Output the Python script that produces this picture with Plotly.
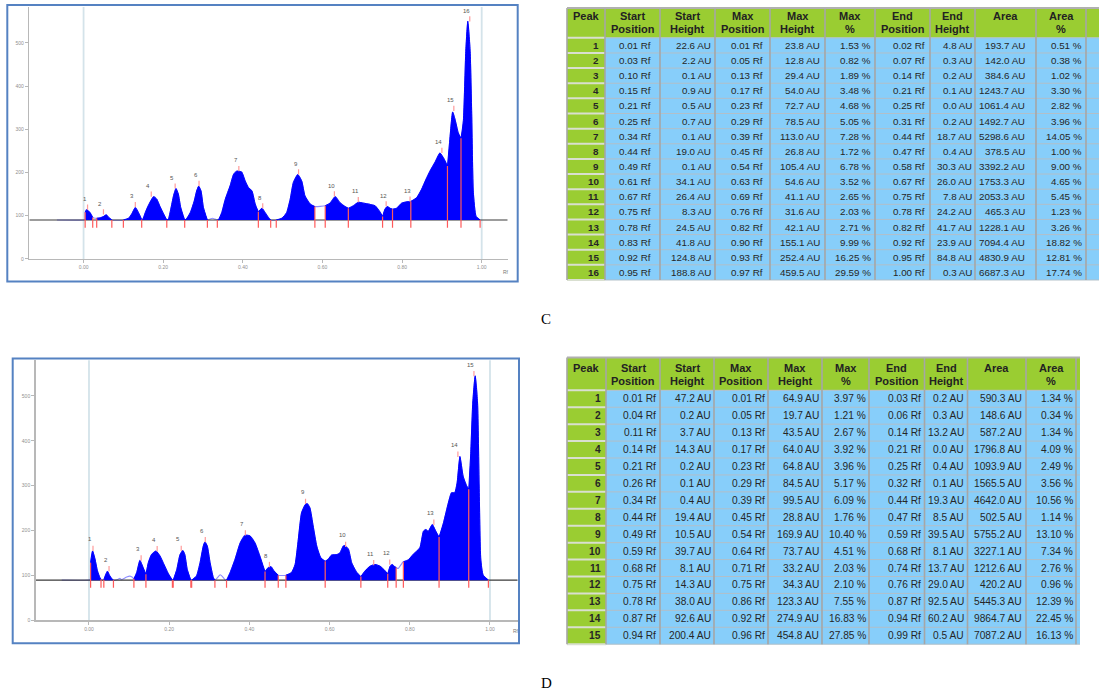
import numpy as np
import plotly.graph_objects as go

W, H = 1099, 695
def PX(x): return x / W
def PY(y): return 1 - y / H

# ---------------- Chart C : chromatogram profile (Rf, AU) ----------------
c_rf = [-0.067, 0.000, 0.003, 0.004, 0.008, 0.013, 0.017, 0.023, 0.029, 0.033, 0.042, 0.050, 0.057, 0.063, 0.071,
        0.100, 0.113, 0.121, 0.130, 0.138, 0.146, 0.149, 0.155, 0.163, 0.176, 0.184, 0.192, 0.201, 0.209, 0.213,
        0.219, 0.226, 0.232, 0.238, 0.244, 0.254, 0.258, 0.268, 0.278, 0.284, 0.289, 0.295, 0.301, 0.311, 0.318,
        0.324, 0.330, 0.336, 0.339, 0.347, 0.356, 0.368, 0.377, 0.385, 0.397, 0.406, 0.414, 0.423, 0.431, 0.439,
        0.448, 0.456, 0.464, 0.470, 0.484, 0.498, 0.510, 0.519, 0.527, 0.538, 0.548, 0.556, 0.569, 0.581, 0.607,
        0.619, 0.632, 0.644, 0.657, 0.665, 0.678, 0.690, 0.703, 0.720, 0.732, 0.745, 0.751, 0.757, 0.763, 0.770,
        0.776, 0.786, 0.799, 0.812, 0.822, 0.837, 0.849, 0.860, 0.870, 0.883, 0.895, 0.905, 0.914, 0.920, 0.927,
        0.933, 0.941, 0.948, 0.954, 0.960, 0.965, 0.971, 0.975, 0.979, 0.986, 0.996]
c_au = [90, 90, 91, 108, 114, 110, 106, 96, 94, 94, 95, 98, 102, 96, 90,
        90, 94, 104, 119, 107, 91, 92, 107, 124, 144, 138, 121, 104, 90, 92,
        115, 146, 163, 150, 119, 90, 92, 107, 134, 157, 168, 157, 119, 90, 92,
        94, 92, 90, 91, 107, 138, 169, 196, 203, 201, 180, 165, 157, 127, 109,
        117, 107, 96, 90, 90, 94, 107, 138, 177, 195, 180, 146, 127, 121, 123,
        129, 144, 130, 121, 117, 123, 131, 129, 126, 123, 108, 98, 115, 121, 117,
        115, 117, 129, 132, 133, 142, 161, 184, 203, 224, 245, 232, 215, 277, 340,
        323, 292, 279, 320, 480, 550, 480, 330, 154, 98, 90]
c_baseline = 90
c_seg_lo = [0.004, 0.033, 0.100, 0.146, 0.209, 0.254, 0.336, 0.439, 0.484, 0.607, 0.665, 0.751, 0.776, 0.822, 0.914, 0.948]
c_seg_hi = [0.023, 0.071, 0.146, 0.209, 0.254, 0.311, 0.439, 0.470, 0.581, 0.665, 0.751, 0.776, 0.822, 0.914, 0.948, 0.996]

# ---------------- Table C ----------------
c_peak = list(range(1, 17))
c_start_pos = [0.01, 0.03, 0.10, 0.15, 0.21, 0.25, 0.34, 0.44, 0.49, 0.61, 0.67, 0.75, 0.78, 0.83, 0.92, 0.95]
c_start_h = [22.6, 2.2, 0.1, 0.9, 0.5, 0.7, 0.1, 19.0, 0.1, 34.1, 26.4, 8.3, 24.5, 41.8, 124.8, 188.8]
c_max_pos = [0.01, 0.05, 0.13, 0.17, 0.23, 0.29, 0.39, 0.45, 0.54, 0.63, 0.69, 0.76, 0.82, 0.90, 0.93, 0.97]
c_max_h = [23.8, 12.8, 29.4, 54.0, 72.7, 78.5, 113.0, 26.8, 105.4, 54.6, 41.1, 31.6, 42.1, 155.1, 252.4, 459.5]
c_max_pct = [1.53, 0.82, 1.89, 3.48, 4.68, 5.05, 7.28, 1.72, 6.78, 3.52, 2.65, 2.03, 2.71, 9.99, 16.25, 29.59]
c_end_pos = [0.02, 0.07, 0.14, 0.21, 0.25, 0.31, 0.44, 0.47, 0.58, 0.67, 0.75, 0.78, 0.82, 0.92, 0.95, 1.00]
c_end_h = [4.8, 0.3, 0.2, 0.1, 0.0, 0.2, 18.7, 0.4, 30.3, 26.0, 7.8, 24.2, 41.7, 23.9, 84.8, 0.3]
c_area = [193.7, 142.0, 384.6, 1243.7, 1061.4, 1492.7, 5298.6, 378.5, 3392.2, 1753.3, 2053.3, 465.3, 1228.1, 7094.4, 4830.9, 6687.3]
c_area_pct = [0.51, 0.38, 1.02, 3.30, 2.82, 3.96, 14.05, 1.00, 9.00, 4.65, 5.45, 1.23, 3.26, 18.82, 12.81, 17.74]

# ---------------- Chart D : chromatogram profile (Rf, AU) ----------------
d_rf = [-0.068, 0.000, 0.003, 0.004, 0.009, 0.015, 0.021, 0.027, 0.030, 0.034,
        0.037, 0.042, 0.046, 0.051, 0.057, 0.061, 0.073, 0.077, 0.081, 0.094,
        0.102, 0.109, 0.112, 0.119, 0.127, 0.135, 0.142, 0.148, 0.156, 0.167,
        0.177, 0.185, 0.198, 0.208, 0.210, 0.219, 0.227, 0.234, 0.239, 0.245,
        0.254, 0.256, 0.268, 0.277, 0.285, 0.289, 0.295, 0.302, 0.310, 0.314,
        0.318, 0.327, 0.333, 0.339, 0.343, 0.352, 0.364, 0.377, 0.389, 0.401,
        0.414, 0.426, 0.439, 0.447, 0.454, 0.461, 0.472, 0.491, 0.505, 0.514,
        0.522, 0.530, 0.539, 0.544, 0.551, 0.559, 0.568, 0.578, 0.589, 0.597,
        0.605, 0.618, 0.626, 0.634, 0.638, 0.647, 0.655, 0.668, 0.678, 0.688,
        0.701, 0.713, 0.726, 0.738, 0.745, 0.751, 0.756, 0.761, 0.766, 0.771,
        0.780, 0.784, 0.796, 0.809, 0.825, 0.834, 0.840, 0.846, 0.856, 0.865,
        0.873, 0.884, 0.896, 0.904, 0.912, 0.918, 0.925, 0.933, 0.942, 0.947,
        0.952, 0.957, 0.963, 0.969, 0.973, 0.977, 0.983, 0.996]
d_au = [89, 89, 90, 128, 154, 136, 110, 95, 91, 89,
        90, 102, 109, 100, 92, 89, 91, 93, 90, 96,
        98, 95, 92, 106, 133, 117, 102, 128, 146, 154,
        143, 128, 103, 89, 89, 113, 146, 155, 146, 113,
        89, 89, 98, 128, 165, 174, 165, 128, 95, 89,
        92, 101, 97, 90, 89, 106, 135, 172, 189, 188,
        172, 143, 108, 117, 119, 110, 100, 100, 106, 124,
        180, 239, 257, 260, 250, 210, 165, 139, 131, 136,
        145, 146, 150, 165, 166, 158, 128, 106, 97, 109,
        120, 124, 120, 110, 103, 120, 124, 120, 117, 115,
        126, 130, 134, 147, 161, 198, 202, 198, 213, 198,
        185, 217, 261, 284, 284, 306, 365, 321, 299, 292,
        372, 484, 545, 484, 299, 136, 100, 89]
d_baseline = 89
d_seg_lo = [0.004, 0.037, 0.112, 0.142, 0.210, 0.256, 0.343, 0.439, 0.491, 0.589, 0.678, 0.745, 0.784, 0.873, 0.947]
d_seg_hi = [0.030, 0.061, 0.142, 0.208, 0.254, 0.314, 0.439, 0.472, 0.589, 0.678, 0.745, 0.766, 0.873, 0.947, 0.996]

# ---------------- Table D ----------------
d_peak = list(range(1, 16))
d_start_pos = [0.01, 0.04, 0.11, 0.14, 0.21, 0.26, 0.34, 0.44, 0.49, 0.59, 0.68, 0.75, 0.78, 0.87, 0.94]
d_start_h = [47.2, 0.2, 3.7, 14.3, 0.2, 0.1, 0.4, 19.4, 10.5, 39.7, 8.1, 14.3, 38.0, 92.6, 200.4]
d_max_pos = [0.01, 0.05, 0.13, 0.17, 0.23, 0.29, 0.39, 0.45, 0.54, 0.64, 0.71, 0.75, 0.86, 0.92, 0.96]
d_max_h = [64.9, 19.7, 43.5, 64.0, 64.8, 84.5, 99.5, 28.8, 169.9, 73.7, 33.2, 34.3, 123.3, 274.9, 454.8]
d_max_pct = [3.97, 1.21, 2.67, 3.92, 3.96, 5.17, 6.09, 1.76, 10.40, 4.51, 2.03, 2.10, 7.55, 16.83, 27.85]
d_end_pos = [0.03, 0.06, 0.14, 0.21, 0.25, 0.32, 0.44, 0.47, 0.59, 0.68, 0.74, 0.76, 0.87, 0.94, 0.99]
d_end_h = [0.2, 0.3, 13.2, 0.0, 0.4, 0.1, 19.3, 8.5, 39.5, 8.1, 13.7, 29.0, 92.5, 60.2, 0.5]
d_area = [590.3, 148.6, 587.2, 1796.8, 1093.9, 1565.5, 4642.0, 502.5, 5755.2, 3227.1, 1212.6, 420.2, 5445.3, 9864.7, 7087.2]
d_area_pct = [1.34, 0.34, 1.34, 4.09, 2.49, 3.56, 10.56, 1.14, 13.10, 7.34, 2.76, 0.96, 12.39, 22.45, 16.13]

x_tick_vals = [0.0, 0.2, 0.4, 0.6, 0.8, 1.0]
x_tick_text = ["0.00", "0.20", "0.40", "0.60", "0.80", "1.00"]
y_tick_vals = [0, 100, 200, 300, 400, 500]
y_tick_text = ["0", "100", "200", "300", "400", "500"]

hdr_l1 = ["Peak", "Start", "Start", "Max", "Max", "Max", "End", "End", "Area", "Area"]
hdr_l2 = ["", "Position", "Height", "Position", "Height", "%", "Position", "Height", "", "%"]

GREEN = "#9acd32"
BLUE = "#87cefa"
FONT = "Liberation Sans, Arial, sans-serif"

fig = go.Figure()
shapes = []
annotations = []

def hline(x0, x1, y, color, w):
    shapes.append(dict(type="line", xref="paper", yref="paper", x0=PX(x0), x1=PX(x1), y0=PY(y), y1=PY(y),
                       line=dict(color=color, width=w)))

def vline(x, y0, y1, color, w):
    shapes.append(dict(type="line", xref="paper", yref="paper", x0=PX(x), x1=PX(x), y0=PY(y0), y1=PY(y1),
                       line=dict(color=color, width=w)))

def rect(x0, y0, x1, y1, fill, line_color=None, lw=0):
    shapes.append(dict(type="rect", xref="paper", yref="paper", x0=PX(x0), x1=PX(x1), y0=PY(y1), y1=PY(y0),
                       fillcolor=fill, line=dict(color=line_color or "rgba(0,0,0,0)", width=lw), layer="below"))

def text_at(x, y, txt, size, color, family=FONT, xanchor="center"):
    annotations.append(dict(x=PX(x), y=PY(y), xref="paper", yref="paper", text=txt, showarrow=False,
                            xanchor=xanchor, yanchor="middle", borderpad=0,
                            font=dict(size=size, color=color, family=family)))

def add_chart(rf, au, base, lo, hi, mpos, mh, xa, ya, xr, tick_u, lab_u, mark_u):
    rf = np.array(rf, dtype=float)
    au = np.array(au, dtype=float)
    common = dict(xaxis=xa, yaxis=ya, hoverinfo="skip", showlegend=False)
    fig.add_trace(go.Scatter(x=rf, y=au, mode="lines",
                             line=dict(color="#8c8cff", width=1.1, shape="spline", smoothing=0.5), **common))
    fig.add_trace(go.Scatter(x=list(xr), y=[base, base], mode="lines",
                             line=dict(color="#3a3a3a", width=1.2), **common))
    for l, h in zip(lo, hi):
        m = (rf >= l - 1e-9) & (rf <= h + 1e-9)
        fig.add_trace(go.Scatter(x=[l, h], y=[base, base], mode="lines",
                                 line=dict(color="rgba(0,0,0,0)", width=0), **common))
        fig.add_trace(go.Scatter(x=rf[m], y=au[m], mode="lines", fill="tonexty", fillcolor="#0000ff",
                                 line=dict(color="#0000ff", width=1, shape="spline", smoothing=0.5), **common))
    bx, by = [], []
    for b in sorted(set(lo) | set(hi)):
        top = float(np.interp(b, rf, au))
        bx += [b, b, None]
        by += [base - tick_u, top, None]
    fig.add_trace(go.Scatter(x=bx, y=by, mode="lines", line=dict(color="#ff5a5a", width=1.2), **common))
    mx, my = [], []
    for p, v in zip(mpos, mh):
        mx += [p, p, None]
        my += [base + v, base + v + mark_u, None]
    fig.add_trace(go.Scatter(x=mx, y=my, mode="lines", line=dict(color="#ff9a9a", width=1.2), **common))
    for i, (p, v) in enumerate(zip(mpos, mh)):
        annotations.append(dict(x=p, y=base + v + lab_u, xref=xa, yref=ya, text=str(i + 1), showarrow=False,
                                xanchor="center", yanchor="middle", xshift=-3,
                                font=dict(size=6, color="#555555", family=FONT)))

add_chart(c_rf, c_au, c_baseline, c_seg_lo, c_seg_hi, c_max_pos, c_max_h, "x", "y",
          (-0.1363, 1.0653), 17.7, 25, 12)
add_chart(d_rf, d_au, d_baseline, d_seg_lo, d_seg_hi, d_max_pos, d_max_h, "x2", "y2",
          (-0.1329, 1.0691), 17.0, 26, 12)

# light vertical guides at Rf 0 and Rf 1
for xa, ya in (("x", "y"), ("x2", "y2")):
    for v in (0.0, 1.0):
        shapes.append(dict(type="line", xref=xa, yref=ya + " domain", x0=v, x1=v, y0=0, y1=1,
                           line=dict(color="#d4e3ea", width=1.8), layer="below"))

# chart frames
rect(7.3, 5, 517.7, 282.7, "rgba(0,0,0,0)", "#5582c2", 2)
rect(12.7, 360, 519, 646, "rgba(0,0,0,0)", "#5582c2", 2)
text_at(506, 272.7, "Rf", 5, "#777777")
text_at(516, 634, "Rf", 5, "#777777")

# captions
SERIF = "Liberation Serif, Times New Roman, serif"
text_at(546, 320, "C", 15, "#000000", SERIF)
text_at(546, 686, "D", 15, "#000000", SERIF)

# ---------------- tables ----------------
def fmt_cols(peak, sp, sh, mp, mh, mpc, ep, eh, ar, apc):
    return [[str(v) for v in peak],
            [f"{v:.2f} Rf" for v in sp],
            [f"{v:.1f} AU" for v in sh],
            [f"{v:.2f} Rf" for v in mp],
            [f"{v:.1f} AU" for v in mh],
            [f"{v:.2f} %" for v in mpc],
            [f"{v:.2f} Rf" for v in ep],
            [f"{v:.1f} AU" for v in eh],
            [f"{v:.1f} AU" for v in ar],
            [f"{v:.2f} %" for v in apc]]

def add_table(cols, edges, top, hdr_bot, row_h, pads, l1_y, l2_y, fs, hfs):
    n = len(cols[0])
    bottom = hdr_bot + n * row_h
    rect(edges[0], top, edges[-1], hdr_bot, GREEN)
    rect(edges[0], hdr_bot, edges[1], bottom, GREEN)
    rect(edges[1], hdr_bot, edges[-1], bottom, BLUE)
    for r in range(n + 1):
        y = hdr_bot + r * row_h
        hline(edges[0], edges[1], y, "#d9dfd0", 2)
        hline(edges[1], edges[-1], y, "#b2bfc8", 1)
    for e in edges[:-1]:
        vline(e, top, bottom, "#a6a6a6", 1.6)
    hline(edges[0], edges[-1], top, "#b0b0b0", 2)
    for c in range(10):
        cx = (edges[c] + edges[c + 1]) / 2
        text_at(cx, l1_y, "<b>" + hdr_l1[c] + "</b>", hfs, "#222222")
        if hdr_l2[c]:
            text_at(cx, l2_y, "<b>" + hdr_l2[c] + "</b>", hfs, "#222222")
    for c in range(10):
        for r in range(n):
            txt = cols[c][r]
            if c == 0:
                txt = "<b>" + txt + "</b>"
            text_at(edges[c + 1] - pads[c], hdr_bot + (r + 0.5) * row_h, txt, fs, "#262626", xanchor="right")

c_cols = fmt_cols(c_peak, c_start_pos, c_start_h, c_max_pos, c_max_h, c_max_pct, c_end_pos, c_end_h, c_area, c_area_pct)
d_cols = fmt_cols(d_peak, d_start_pos, d_start_h, d_max_pos, d_max_h, d_max_pct, d_end_pos, d_end_h, d_area, d_area_pct)

add_table(c_cols, [567, 605, 660, 715, 770, 825, 875, 930, 975, 1036, 1086, 1100], 8, 38, 15.2,
          [5, 8, 3.5, 6, 4.5, 2.7, 4, 2.3, 10, 2.7], 16.5, 29.5, 9.8, 11)
add_table(d_cols, [567, 606, 660, 714, 768, 822, 869, 924.5, 967.5, 1026, 1076, 1080], 359, 392, 17,
          [4.5, 2.5, 2.5, 2.5, 2.5, 2, 3, 3, 3, 2], 369.5, 382.5, 10.2, 11)

axis_common = dict(showline=True, linecolor="#b8b8b8", linewidth=1.5, ticks="outside", ticklen=3,
                   tickcolor="#b8b8b8", showgrid=False, zeroline=False,
                   tickfont=dict(size=5, color="#909090", family=FONT))

fig.update_layout(
    width=W, height=H, margin=dict(l=0, r=0, t=0, b=0),
    paper_bgcolor="white", plot_bgcolor="white", showlegend=False,
    xaxis=dict(domain=[PX(29.3), PX(507.7)], range=[-0.1363, 1.0653], anchor="y",
               tickvals=x_tick_vals, ticktext=x_tick_text, **axis_common),
    yaxis=dict(domain=[PY(260), PY(7)], range=[0, 582.9], anchor="x",
               tickvals=y_tick_vals, ticktext=y_tick_text, **axis_common),
    xaxis2=dict(domain=[PX(35.7), PX(517.7)], range=[-0.1329, 1.0691], anchor="y2",
                tickvals=x_tick_vals, ticktext=x_tick_text, **axis_common),
    yaxis2=dict(domain=[PY(622.7), PY(361.7)], range=[0, 580], anchor="x2",
                tickvals=y_tick_vals, ticktext=y_tick_text, **axis_common),
    shapes=shapes, annotations=annotations,
)

fig.write_html("out.html", config={"displayModeBar": False, "staticPlot": True},
               post_script="document.body.style.margin='0px';")
